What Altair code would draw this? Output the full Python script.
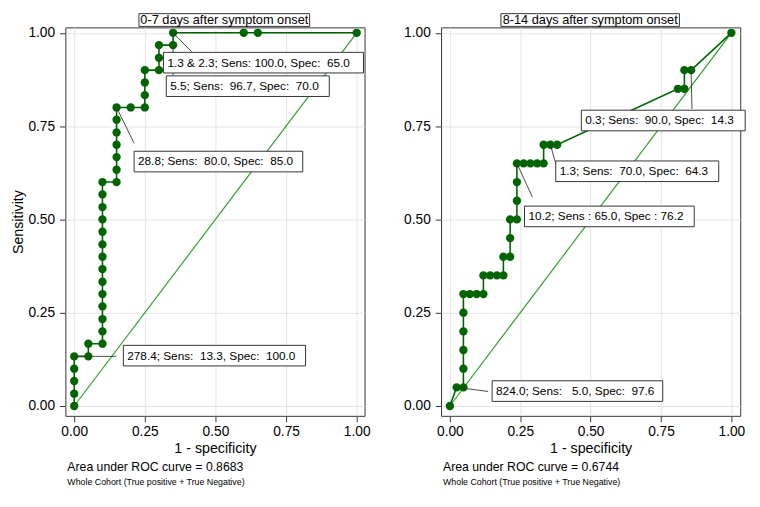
import altair as alt
import pandas as pd

FONT = "Liberation Sans"
DARK = "#006400"
DIAG = "#2ca02c"

# ---------------- data: 0-7 days ----------------
left_fpr = [0, 0, 0, 0, 0, 0.05, 0.05, 0.1, 0.1, 0.1, 0.1, 0.1, 0.1, 0.1, 0.1, 0.1,
            0.1, 0.1, 0.1, 0.1, 0.1, 0.15, 0.15, 0.15, 0.15, 0.15, 0.15, 0.15, 0.2,
            0.25, 0.25, 0.25, 0.25, 0.3, 0.3, 0.3, 0.35, 0.35, 0.6, 0.65, 1.0]
left_sens = [0, 0.033, 0.067, 0.1, 0.133, 0.133, 0.167, 0.167, 0.2, 0.233, 0.267, 0.3,
             0.333, 0.367, 0.4, 0.433, 0.467, 0.5, 0.533, 0.567, 0.6, 0.6, 0.633, 0.667,
             0.7, 0.733, 0.767, 0.8, 0.8, 0.8, 0.833, 0.867, 0.9, 0.9, 0.933, 0.967,
             0.967, 1.0, 1.0, 1.0, 1.0]

# ---------------- data: 8-14 days ----------------
right_fpr = [0, 0.024, 0.048, 0.048, 0.048, 0.048, 0.048, 0.048, 0.071, 0.095, 0.119,
             0.119, 0.143, 0.167, 0.190, 0.190, 0.214, 0.214, 0.214, 0.238, 0.238,
             0.238, 0.238, 0.262, 0.286, 0.310, 0.333, 0.333, 0.357, 0.381, 0.810,
             0.833, 0.833, 0.857, 1.0]
right_sens = [0, 0.05, 0.05, 0.1, 0.15, 0.2, 0.25, 0.3, 0.3, 0.3, 0.3, 0.35, 0.35, 0.35,
              0.35, 0.4, 0.4, 0.45, 0.5, 0.5, 0.55, 0.6, 0.65, 0.65, 0.65, 0.65, 0.65,
              0.7, 0.7, 0.7, 0.85, 0.85, 0.9, 0.9, 1.0]

# ---------------- annotations ----------------
left_labels = ["1.3 & 2.3; Sens: 100.0, Spec: \u00a065.0",
               "5.5; Sens: \u00a096.7, Spec: \u00a070.0",
               "28.8; Sens: \u00a080.0, Spec: \u00a085.0",
               "278.4; Sens: \u00a013.3, Spec: \u00a0100.0"]
left_box_x = [0.316, 0.326, 0.212, 0.174]
left_box_x2 = [1.024, 0.903, 0.809, 0.819]
left_box_y = [0.920, 0.857, 0.655, 0.135]
left_lead_x = [0.35, 0.35, 0.15, 0.0]
left_lead_y = [1.0, 0.967, 0.8, 0.133]
left_lead_x2 = [0.416, 0.35, 0.212, 0.149]
left_lead_y2 = [0.949, 0.886, 0.704, 0.133]

right_labels = ["0.3; Sens: \u00a090.0, Spec: \u00a014.3",
                "1.3; Sens: \u00a070.0, Spec: \u00a064.3",
                "10.2; Sens : 65.0, Spec : 76.2",
                "824.0; Sens: \u00a0 5.0, Spec: \u00a097.6"]
right_box_x = [0.467, 0.376, 0.265, 0.150]
right_box_x2 = [1.049, 0.955, 0.868, 0.756]
right_box_y = [0.765, 0.629, 0.508, 0.040]
right_lead_x = [0.857, 0.357, 0.238, 0.024]
right_lead_y = [0.9, 0.7, 0.65, 0.05]
right_lead_x2 = [0.860, 0.377, 0.293, 0.136]
right_lead_y2 = [0.796, 0.647, 0.560, 0.039]

titles = ["0-7 days after symptom onset", "8-14 days after symptom onset"]
auc_texts = ["Area under ROC curve = 0.8683", "Area under ROC curve = 0.6744"]
cohort_text = "Whole Cohort (True positive + True Negative)"
ticks = [0, 0.25, 0.5, 0.75, 1.0]

BOX_HALF = 0.0276  # half box height in sensitivity units


def panel(fpr, sens, labels, bx, bx2, by, lx, ly, lx2, ly2, title, auc,
          xdom, ytitle, title_x, title_x2):
    roc = pd.DataFrame({"fpr": fpr, "sens": sens, "i": list(range(len(fpr)))})
    diag = pd.DataFrame({"fpr": [0.0, 1.0], "sens": [0.0, 1.0]})
    ann = pd.DataFrame({"label": labels, "bx": bx, "bx2": bx2,
                        "by": [v - BOX_HALF for v in by],
                        "by2": [v + BOX_HALF for v in by], "yc": by})
    lead = pd.DataFrame({"lx": lx, "ly": ly, "lx2": lx2, "ly2": ly2})

    xs = alt.Scale(domain=xdom, nice=False, zero=False)
    ys = alt.Scale(domain=[-0.0263, 1.0145], nice=False, zero=False)
    xax = alt.Axis(values=ticks, format=".2f", title="1 - specificity")
    if ytitle:
        yax = alt.Axis(values=ticks, format=".2f", title="Sensitivity")
    else:
        yax = alt.Axis(values=ticks, format=".2f", title=None)

    d = alt.Chart(diag).mark_line(color=DIAG, strokeWidth=1.2).encode(
        x=alt.X("fpr:Q", scale=xs, axis=xax),
        y=alt.Y("sens:Q", scale=ys, axis=yax))
    line = alt.Chart(roc).mark_line(color=DARK, strokeWidth=1.6).encode(
        x="fpr:Q", y="sens:Q", order="i:Q")
    pts = alt.Chart(roc).mark_circle(color=DARK, size=72, opacity=1).encode(
        x="fpr:Q", y="sens:Q")
    leads = alt.Chart(lead).mark_rule(color="#333333", strokeWidth=0.9).encode(
        x="lx:Q", y="ly:Q", x2="lx2:Q", y2="ly2:Q")
    boxes = alt.Chart(ann).mark_rect(fill="white", stroke="#333333",
                                     strokeWidth=1).encode(
        x="bx:Q", x2="bx2:Q", y="by:Q", y2="by2:Q")
    texts = alt.Chart(ann).mark_text(align="left", baseline="middle", dx=4,
                                     font=FONT, fontSize=12, color="black").encode(
        x="bx:Q", y="yc:Q", text="label:N")

    tdf = pd.DataFrame({"t": [title]})
    tbox = alt.Chart(tdf).mark_rect(fill="white", stroke="#333333", strokeWidth=1).encode(
        x=alt.value(title_x), x2=alt.value(title_x2), y=alt.value(-14), y2=alt.value(-1))
    ttext = alt.Chart(tdf).mark_text(align="center", baseline="middle", font=FONT,
                                     fontSize=13, color="black").encode(
        x=alt.value((title_x + title_x2) / 2), y=alt.value(-7.5), text="t:N")
    adf = pd.DataFrame({"t": [auc], "c": [cohort_text]})
    atext = alt.Chart(adf).mark_text(align="left", baseline="middle", font=FONT,
                                     fontSize=12.5, color="black").encode(
        x=alt.value(2), y=alt.value(448), text="t:N")
    ctext = alt.Chart(adf).mark_text(align="left", baseline="middle", font=FONT,
                                     fontSize=9, color="black").encode(
        x=alt.value(2), y=alt.value(464), text="c:N")

    return alt.layer(d, line, pts, leads, boxes, texts, tbox, ttext, atext,
                     ctext).properties(width=305, height=396)


left = panel(left_fpr, left_sens, left_labels, left_box_x, left_box_x2, left_box_y,
             left_lead_x, left_lead_y, left_lead_x2, left_lead_y2, titles[0],
             auc_texts[0], [-0.03125, 1.0278], True, 75, 249)
right = panel(right_fpr, right_sens, right_labels, right_box_x, right_box_x2,
              right_box_y, right_lead_x, right_lead_y, right_lead_x2, right_lead_y2,
              titles[1], auc_texts[1], [-0.0314, 1.0314], False, 61, 243)

chart = alt.hconcat(left, right, spacing=32).properties(
    padding={"left": 2.5, "top": 0, "right": 5, "bottom": 5}
).configure_view(
    stroke="#333333", strokeWidth=1
).configure_axis(
    domain=False, grid=True, gridColor="#e3e3e3", gridWidth=1,
    tickColor="#333333", tickSize=6, tickWidth=1,
    labelFont=FONT, labelFontSize=14, labelColor="black",
    titleFont=FONT, titleFontSize=14.5, titleFontWeight="normal", titleColor="black"
).configure_axisX(
    labelPadding=3, titlePadding=3
).configure_axisY(
    labelPadding=5, titlePadding=2
)

chart.save("out.html", embed_options={"renderer": "svg", "actions": False})
